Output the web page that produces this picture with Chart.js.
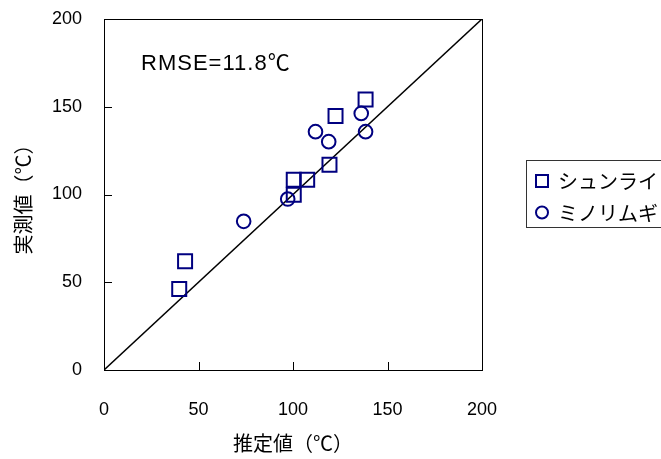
<!DOCTYPE html>
<html><head><meta charset="utf-8">
<script src="https://cdn.jsdelivr.net/npm/chart.js@4"></script>
<style>html,body{margin:0;padding:0;background:#fff}#wrap{position:relative;width:661px;height:459px}</style>
</head><body><div id="wrap"><canvas id="c" width="661" height="459"></canvas></div>
<script>
const seriesNames = ['シュンライ', 'ミノリムギ'];
const shunraiX = [39.8, 42.9, 100.4, 100.4, 107.5, 119.3, 122.5, 138.4];
const shunraiY = [46.2, 61.9, 108.4, 99.8, 108.4, 116.9, 144.7, 154.2];
const minoriX = [73.9, 97.2, 111.9, 118.9, 136.1, 138.4];
const minoriY = [84.7, 97.4, 135.8, 130.1, 146.2, 135.8];
const lineX = [0, 200];
const lineY = [0, 200];
const tickValues = [0, 50, 100, 150, 200];
const xTitle = '推定値（℃）';
const yTitle = '実測値（℃）';
const note = 'RMSE=11.8℃';
const notePos = {x: 19.6, y: 174.3};

const NAVY = '#000080';
const numFont = "'Liberation Sans', Arial, sans-serif";
const jpFont = "'Noto Sans CJK JP', sans-serif";
const pts = (xs, ys) => xs.map((x, i) => ({x, y: ys[i]}));

const framePlugin = {
  id: 'frame',
  afterDatasetsDraw(chart) {
    const {ctx, chartArea: a, scales: {x, y}} = chart;
    ctx.save();
    ctx.strokeStyle = '#000';
    ctx.lineWidth = 1;
    ctx.strokeRect(Math.round(a.left) + 0.5, Math.round(a.top) + 0.5, Math.round(a.right - a.left), Math.round(a.bottom - a.top));
    ctx.beginPath();
    tickValues.forEach(v => {
      const px = Math.round(x.getPixelForValue(v)) + 0.5;
      ctx.moveTo(px, a.bottom); ctx.lineTo(px, a.bottom - 8);
      const py = Math.round(y.getPixelForValue(v)) + 0.5;
      ctx.moveTo(a.left, py); ctx.lineTo(a.left + 8, py);
    });
    ctx.stroke();
    ctx.fillStyle = '#000';
    ctx.font = "22px " + numFont + ", " + jpFont;
    ctx.letterSpacing = '1px';
    ctx.textBaseline = 'middle';
    ctx.textAlign = 'left';
    ctx.fillText(note, x.getPixelForValue(notePos.x), y.getPixelForValue(notePos.y));
    ctx.letterSpacing = '0px';
    // legend
    const lx = 526.5, ly = 160.5;
    ctx.strokeStyle = '#333';
    ctx.strokeRect(lx, ly, 200, 67);
    ctx.strokeStyle = NAVY; ctx.lineWidth = 2;
    ctx.strokeRect(536, 175, 12, 12);
    ctx.beginPath(); ctx.arc(542, 212.5, 6, 0, Math.PI * 2); ctx.stroke();
    ctx.fillStyle = '#000';
    ctx.font = "20px " + jpFont;
    ctx.fillText(seriesNames[0], 558, 181);
    ctx.fillText(seriesNames[1], 558, 213);
    ctx.restore();
  }
};

new Chart(document.getElementById('c'), {
  type: 'scatter',
  data: {
    datasets: [
      {label: seriesNames[0], data: pts(shunraiX, shunraiY), pointStyle: 'rect', pointRadius: 9.9, pointHoverRadius: 9.9,
       borderColor: NAVY, backgroundColor: 'rgba(0,0,0,0)', borderWidth: 2, order: 1},
      {label: seriesNames[1], data: pts(minoriX, minoriY), pointStyle: 'circle', pointRadius: 6.8, pointHoverRadius: 6.8,
       borderColor: NAVY, backgroundColor: 'rgba(0,0,0,0)', borderWidth: 2, order: 1},
      {type: 'line', label: 'line', data: pts(lineX, lineY), borderColor: '#000', borderWidth: 1.5, pointRadius: 0, fill: false, order: 2}
    ]
  },
  options: {
    responsive: false, animation: false, devicePixelRatio: 1,
    layout: {autoPadding: false, padding: {top: 19, right: 179, bottom: 0, left: 0}},
    plugins: {legend: {display: false}, tooltip: {enabled: false}},
    scales: {
      x: {type: 'linear', min: 0, max: 200,
        afterBuildTicks: s => { s.ticks = tickValues.map(v => ({value: v})); },
        afterFit: s => { s.height = 89; s.paddingLeft = 0; s.paddingRight = 0; },
        grid: {display: false, drawTicks: false}, border: {display: false},
        ticks: {padding: 29, color: '#000', font: {family: numFont, size: 18}},
        title: {display: true, text: xTitle, color: '#000', font: {family: jpFont, size: 20}, padding: {top: 0, bottom: 4}}
      },
      y: {type: 'linear', min: 0, max: 200,
        afterBuildTicks: s => { s.ticks = tickValues.map(v => ({value: v})); },
        afterFit: s => { s.width = 104; s.paddingTop = 0; s.paddingBottom = 0; },
        grid: {display: false, drawTicks: false}, border: {display: false},
        ticks: {padding: 22, color: '#000', font: {family: numFont, size: 18}},
        title: {display: true, text: yTitle, color: '#000', font: {family: jpFont, size: 20}, padding: {top: 11, bottom: 0}}
      }
    }
  },
  plugins: [framePlugin]
});
</script></body></html>
